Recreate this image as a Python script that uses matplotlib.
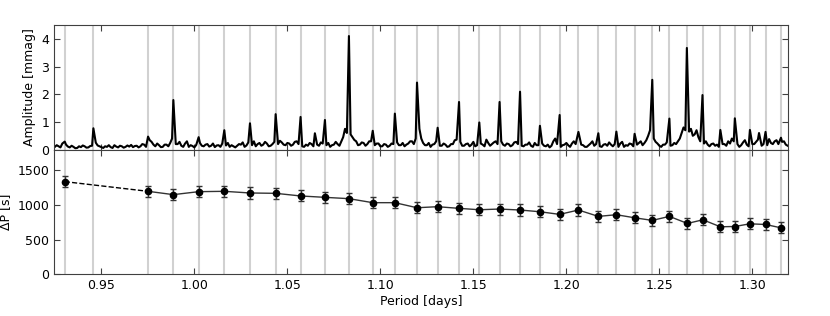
import numpy as np
import matplotlib
matplotlib.use("Agg")
import matplotlib.pyplot as plt

# identified modes (period in days) -> grey guide lines
mode_periods = [0.9303, 0.9457, 0.9751, 0.9887, 1.0023, 1.0161, 1.0299, 1.0437,
                1.0571, 1.0702, 1.0831, 1.0959, 1.1078, 1.1197, 1.1308, 1.1423,
                1.1532, 1.1641, 1.1751, 1.1858, 1.1964, 1.2065, 1.2172, 1.2269,
                1.2367, 1.2462, 1.2554, 1.2651, 1.2734, 1.2828, 1.2906, 1.2987,
                1.3071, 1.3154]

# peaks of the amplitude spectrum (period, amplitude in mmag)
peak_periods = [0.9303, 0.9457, 0.9751, 0.9887, 1.0023, 1.0161, 1.0299, 1.0437,
                1.0571, 1.0648, 1.0702, 1.0831, 1.0959, 1.1078, 1.1197, 1.1308,
                1.1423, 1.1532, 1.1641, 1.1751, 1.1858, 1.1964, 1.2065, 1.2172,
                1.2269, 1.2367, 1.2462, 1.2554, 1.2648, 1.2732, 1.2828, 1.2906,
                1.2987, 1.3036, 1.3071, 1.3154]
peak_amps = [0.29, 0.77, 0.47, 1.79, 0.45, 0.70, 0.95, 1.28,
             1.18, 0.59, 1.07, 4.10, 0.68, 1.30, 2.42, 0.79,
             1.72, 0.98, 1.72, 2.09, 0.86, 1.25, 0.64, 0.59,
             0.65, 0.57, 2.52, 1.12, 3.67, 1.97, 0.71, 1.13,
             0.71, 0.60, 0.64, 0.43]

# noise floor between the peaks, 0.01 mmag units, one value every 0.001 d from 0.925 d
noise_start = 0.925
noise_step = 0.001
noise = [10, 16, 12, 8, 22, 28, 18, 11, 8, 14, 10, 5, 6, 12, 9, 15, 12, 7, 8, 13,
         14, 20, 25, 15, 12, 9, 6, 12, 10, 16, 9, 6, 16, 11, 8, 14, 12, 7, 10, 15,
         11, 17, 9, 13, 14, 8, 12, 20, 18, 10, 20, 34, 28, 18, 12, 22, 16, 9, 10, 18,
         18, 12, 24, 40, 30, 20, 20, 28, 14, 10, 22, 30, 10, 16, 13, 8, 17, 26, 24, 14,
         12, 18, 20, 11, 14, 22, 9, 15, 16, 10, 22, 14, 15, 24, 10, 16, 12, 8, 14, 20,
         18, 26, 10, 15, 26, 18, 16, 30, 12, 20, 24, 14, 18, 28, 22, 12, 14, 20, 28, 16,
         20, 32, 26, 18, 16, 24, 22, 14, 18, 28, 30, 20, 24, 12, 10, 18, 14, 24, 20, 12,
         30, 18, 14, 26, 22, 12, 16, 24, 10, 16, 18, 28, 20, 14, 30, 45, 75, 60, 40, 55,
         45, 35, 30, 16, 18, 26, 24, 14, 20, 30, 30, 18, 16, 22, 22, 12, 12, 20, 18, 10,
         14, 22, 20, 12, 26, 16, 16, 24, 12, 18, 22, 30, 30, 20, 40, 30, 75, 40, 24, 16,
         16, 24, 10, 18, 20, 30, 26, 14, 14, 22, 18, 10, 12, 20, 20, 34, 36, 20, 28, 14,
         14, 20, 22, 12, 18, 28, 12, 16, 30, 22, 18, 12, 36, 24, 14, 20, 26, 30, 20, 14,
         30, 18, 14, 22, 20, 12, 16, 26, 28, 20, 22, 14, 12, 18, 18, 26, 14, 10, 24, 16,
         16, 26, 22, 14, 12, 18, 8, 14, 30, 40, 20, 12, 10, 16, 18, 24, 16, 10, 22, 30,
         20, 28, 12, 18, 16, 10, 10, 16, 22, 30, 14, 20, 18, 12, 10, 18, 20, 14, 26, 18,
         12, 20, 18, 10, 22, 28, 10, 16, 14, 22, 20, 12, 12, 18, 24, 30, 16, 24, 34, 50,
         70, 60, 40, 28, 22, 14, 10, 18, 18, 26, 26, 14, 16, 24, 20, 30, 40, 60, 80, 70,
         60, 65, 75, 50, 55, 70, 45, 30, 14, 22, 30, 18, 12, 20, 22, 14, 18, 10, 12, 20,
         20, 14, 30, 22, 40, 30, 14, 20, 10, 16, 26, 34, 18, 12, 34, 20, 20, 28, 36, 22,
         14, 20, 26, 16, 38, 24, 20, 30, 34, 20, 22, 28, 30, 18, 14]

# period spacing of consecutive modes
dp_periods = [0.9303, 0.9751, 0.9887, 1.0023, 1.0161, 1.0299, 1.0437, 1.0571,
              1.0702, 1.0831, 1.0959, 1.1078, 1.1197, 1.1308, 1.1423, 1.1532,
              1.1641, 1.1751, 1.1858, 1.1964, 1.2065, 1.2172, 1.2269, 1.2367,
              1.2462, 1.2554, 1.2651, 1.2734, 1.2828, 1.2906, 1.2987, 1.3071,
              1.3154]
dp_values = [1338, 1198, 1150, 1193, 1198, 1174, 1169, 1131,
             1111, 1092, 1034, 1034, 961, 976, 952, 932,
             942, 928, 903, 865, 928, 836, 860, 816,
             778, 836, 734, 787, 686, 690, 729, 719,
             671]
dp_errors = [80] * len(dp_values)

plt.rcParams['font.family'] = 'DejaVu Sans'
plt.rcParams['font.size'] = 9
plt.rcParams['xtick.direction'] = 'in'
plt.rcParams['ytick.direction'] = 'in'
plt.rcParams['xtick.top'] = True
plt.rcParams['ytick.right'] = True
plt.rcParams['xtick.major.size'] = 4
plt.rcParams['ytick.major.size'] = 4
plt.rcParams['xtick.color'] = '0.25'
plt.rcParams['ytick.color'] = '0.25'
plt.rcParams['xtick.labelcolor'] = 'black'
plt.rcParams['ytick.labelcolor'] = 'black'
plt.rcParams['axes.edgecolor'] = '0.25'

fig, (ax1, ax2) = plt.subplots(2, 1, sharex=True, figsize=(8.3, 3.16), dpi=100)
fig.subplots_adjust(left=0.065, right=0.949, top=0.921, bottom=0.132, hspace=0)

# spectrum line: noise samples with the peak tops dropped in
noise_p = noise_start + noise_step * np.arange(len(noise))
pk_p = np.array(peak_periods)
keep = np.all(np.abs(noise_p[:, None] - pk_p[None, :]) > 0.00055, axis=1)
spec_p = np.concatenate([noise_p[keep], pk_p])
spec_a = np.concatenate([np.array(noise)[keep] / 100.0, np.array(peak_amps)])
order = np.argsort(spec_p)

for p in mode_periods:
    ax1.axvline(p, color='0.82', lw=1.5, zorder=0)
    ax2.axvline(p, color='0.82', lw=1.5, zorder=0)

ax1.plot(spec_p[order], spec_a[order], color='black', lw=1.5)
ax1.set_ylim(0, 4.5)
ax1.set_yticks([0, 1, 2, 3, 4])
ax1.set_ylabel('Amplitude [mmag]')

# first spacing dashed (missing mode), rest solid
ax2.plot(dp_periods[:2], dp_values[:2], color='black', ls='--', lw=1)
ax2.plot(dp_periods[1:], dp_values[1:], color='0.2', lw=1)
ax2.errorbar(dp_periods, dp_values, yerr=dp_errors, fmt='o', color='black',
             ms=4.5, ecolor='0.2', elinewidth=1, capsize=2.5)
ax2.set_ylim(0, 1800)
ax2.set_yticks([0, 500, 1000, 1500])
ax2.set_ylabel('\u0394P [s]')
ax2.set_xlim(0.9245, 1.319)
ax2.set_xticks([0.95, 1.00, 1.05, 1.10, 1.15, 1.20, 1.25, 1.30])
ax2.set_xticklabels(['0.95', '1.00', '1.05', '1.10', '1.15', '1.20', '1.25', '1.30'])
ax2.set_xlabel('Period [days]', labelpad=2)

fig.savefig('out.png', dpi=100)
